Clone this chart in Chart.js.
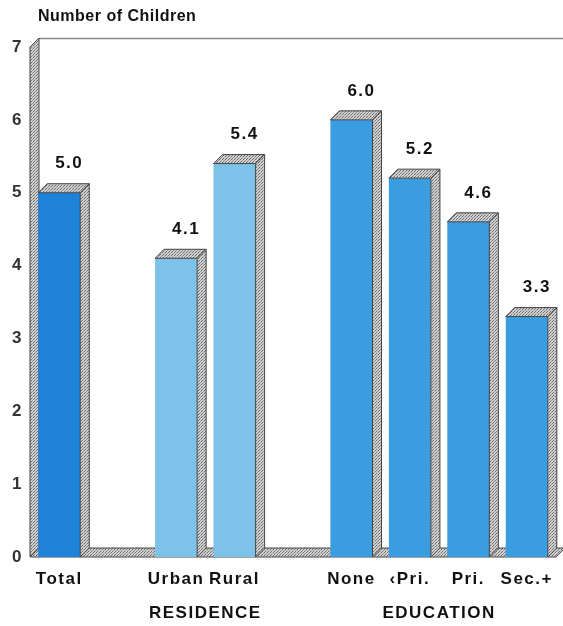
<!DOCTYPE html>
<html>
<head>
<meta charset="utf-8">
<script src="https://cdn.jsdelivr.net/npm/chart.js@4"></script>
<style>
  html, body { margin: 0; padding: 0; background: #fff; }
  #wrap { width: 563px; height: 626px; position: relative; }
</style>
</head>
<body>
<div id="wrap"><canvas id="c" width="563" height="626"></canvas></div>
<script>
// Categories (empty slots separate the groups)
const categories = ['Total', '', 'Urban', 'Rural', '', 'None', '\u2039Pri.', 'Pri.', 'Sec.+'];
// Mean number of children per category
const values = [5.0, null, 4.1, 5.4, null, 6.0, 5.2, 4.6, 3.3];
// Value labels shown above each bar
const valueLabels = ['5.0', '', '4.1', '5.4', '', '6.0', '5.2', '4.6', '3.3'];
// Group captions and the category indices they span
const groupNames = ['RESIDENCE', 'EDUCATION'];
const groupSpans = [[2, 3], [5, 8]];
const yTicks = [0, 1, 2, 3, 4, 5, 6, 7];

const colTotal = '#1d82d8';
const colRes = '#7dc2e8';
const colEdu = '#3a9de0';
const barColors = [colTotal, null, colRes, colRes, null, colEdu, colEdu, colEdu, colEdu];

const DEPTH = 9;
const FONT = '"Liberation Sans", Arial, sans-serif';

// Stippled grey fill for the 3D side faces, floor and wall
function makeStipple(ctx) {
  const p = document.createElement('canvas');
  p.width = 3; p.height = 3;
  const g = p.getContext('2d');
  g.fillStyle = '#cfcfcf';
  g.fillRect(0, 0, 3, 3);
  g.fillStyle = '#6e6e6e';
  g.fillRect(0, 0, 1, 1);
  g.fillRect(1, 2, 1, 1);
  g.fillStyle = '#9a9a9a';
  g.fillRect(2, 1, 1, 1);
  return ctx.createPattern(p, 'repeat');
}

function poly(ctx, pts, fill) {
  ctx.beginPath();
  ctx.moveTo(pts[0][0], pts[0][1]);
  for (let i = 1; i < pts.length; i++) ctx.lineTo(pts[i][0], pts[i][1]);
  ctx.closePath();
  ctx.fillStyle = fill;
  ctx.fill();
  ctx.lineWidth = 1;
  ctx.strokeStyle = '#444';
  ctx.stroke();
}

const frame3d = {
  id: 'frame3d',
  beforeDraw(chart) {
    // slightly spaced lettering for the axis labels
    chart.ctx.letterSpacing = '1.5px';
  },
  beforeDatasetsDraw(chart) {
    const ctx = chart.ctx;
    const a = chart.chartArea;
    const y = chart.scales.y;
    const pat = makeStipple(ctx);
    const top = y.getPixelForValue(7);
    const bot = y.getPixelForValue(0);
    ctx.save();
    // back edge line along the top
    ctx.strokeStyle = '#888';
    ctx.lineWidth = 1.5;
    ctx.beginPath();
    ctx.moveTo(a.left + DEPTH, top - DEPTH + 0.5);
    ctx.lineTo(chart.width, top - DEPTH + 0.5);
    ctx.stroke();
    // floor
    poly(ctx, [[a.left, bot], [a.right, bot], [a.right + DEPTH, bot - DEPTH], [a.left + DEPTH, bot - DEPTH]], pat);
    // left wall
    poly(ctx, [[a.left, bot], [a.left, top], [a.left + DEPTH, top - DEPTH], [a.left + DEPTH, bot - DEPTH]], pat);
    ctx.restore();
  },
  afterDatasetsDraw(chart) {
    const ctx = chart.ctx;
    const pat = makeStipple(ctx);
    const meta = chart.getDatasetMeta(0);
    ctx.save();
    meta.data.forEach((bar, i) => {
      if (values[i] === null) return;
      const x0 = bar.x - bar.width / 2;
      const x1 = bar.x + bar.width / 2;
      const yt = bar.y;
      const yb = bar.base;
      // top face
      poly(ctx, [[x0, yt], [x1, yt], [x1 + DEPTH, yt - DEPTH], [x0 + DEPTH, yt - DEPTH]], pat);
      // right side face
      poly(ctx, [[x1, yt], [x1 + DEPTH, yt - DEPTH], [x1 + DEPTH, yb - DEPTH], [x1, yb]], pat);
      // value label
      ctx.fillStyle = '#111';
      ctx.font = 'bold 17px ' + FONT;
      ctx.letterSpacing = '1.5px';
      ctx.textAlign = 'center';
      ctx.textBaseline = 'middle';
      ctx.fillText(valueLabels[i], bar.x + 10, yt - 29);
    });
    ctx.restore();
  },
  afterDraw(chart) {
    const ctx = chart.ctx;
    const x = chart.scales.x;
    ctx.save();
    ctx.fillStyle = '#111';
    ctx.textAlign = 'left';
    ctx.textBaseline = 'middle';
    ctx.font = 'bold 16px ' + FONT;
    ctx.letterSpacing = '0.5px';
    ctx.fillText('Number of Children', 38, 17);
    ctx.textAlign = 'center';
    ctx.font = 'bold 17px ' + FONT;
    ctx.letterSpacing = '1.5px';
    groupNames.forEach((name, k) => {
      const [s, e] = groupSpans[k];
      const cx = (x.getPixelForValue(s) + x.getPixelForValue(e)) / 2;
      ctx.fillText(name, cx, 613);
    });
    ctx.restore();
  }
};

new Chart(document.getElementById('c'), {
  type: 'bar',
  data: {
    labels: categories,
    datasets: [{
      data: values,
      backgroundColor: barColors,
      borderWidth: 0,
      barPercentage: 0.72,
      categoryPercentage: 1.0
    }]
  },
  options: {
    responsive: false,
    animation: false,
    events: [],
    layout: { padding: { top: 47, right: 7, left: 0, bottom: 0 } },
    plugins: { legend: { display: false }, tooltip: { enabled: false }, title: { display: false } },
    scales: {
      x: {
        grid: { display: false, drawTicks: false },
        border: { display: false },
        ticks: {
          color: '#111',
          font: { family: FONT, size: 17, weight: 'bold' },
          padding: 12,
          maxRotation: 0,
          autoSkip: false
        },
        afterFit(scale) { scale.height = 69; }
      },
      y: {
        min: 0,
        max: 7,
        grid: { display: false, drawTicks: false },
        border: { display: false },
        afterBuildTicks(scale) { scale.ticks = yTicks.map(v => ({ value: v })); },
        ticks: {
          color: '#333',
          font: { family: FONT, size: 17, weight: 'bold' },
          padding: 7
        },
        afterFit(scale) { scale.width = 30; }
      }
    }
  },
  plugins: [frame3d]
});
</script>
</body>
</html>
